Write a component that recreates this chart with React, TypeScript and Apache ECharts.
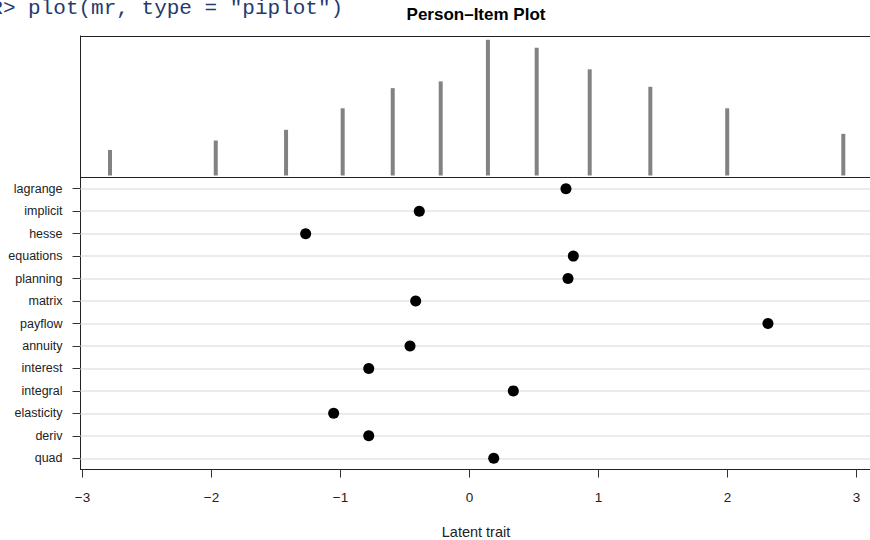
import React, { useEffect, useRef } from "react";
import * as echarts from "echarts";

// Items (top to bottom) and their estimated difficulty on the latent trait
const items = [
  "lagrange", "implicit", "hesse", "equations", "planning", "matrix", "payflow",
  "annuity", "interest", "integral", "elasticity", "deriv", "quad",
];
const itemDifficulty = [
  0.748, -0.389, -1.27, 0.805, 0.764, -0.417, 2.314,
  -0.461, -0.781, 0.34, -1.053, -0.781, 0.188,
];

// Person parameter distribution (trait value -> frequency)
const personTrait = [-2.787, -1.967, -1.422, -0.983, -0.595, -0.223, 0.143, 0.521, 0.932, 1.402, 1.998, 2.898];
const personCount = [19, 26, 34, 50, 65, 70, 101, 95, 79, 66, 50, 31];

const xTicks = [-3, -2, -1, 0, 1, 2, 3];
// the plot region runs past the right edge of the picture (cropped figure)
const X_MIN = -3.0155;
const X_MAX = 3.574;

const FONT = "'Liberation Sans', Arial, Helvetica, sans-serif";
const LINE = { color: "#222", width: 1 };

export default function App() {
  const ref = useRef<HTMLDivElement>(null);

  useEffect(() => {
    if (!ref.current) return;
    const chart = echarts.init(ref.current, undefined, { renderer: "svg" });

    const hiddenParts = {
      axisTick: { show: false }, axisLabel: { show: false }, splitLine: { show: false },
    };

    const option: any = {
      animation: false,
      backgroundColor: "#ffffff",
      textStyle: { fontFamily: FONT },
      grid: [
        { left: 80.5, width: 850, top: 36, height: 141.5, outerBoundsMode: "none", containLabel: false, show: false },
        { left: 80.5, width: 850, top: 177.5, height: 292, outerBoundsMode: "none", containLabel: false, show: false },
      ],
      xAxis: [
        {
          gridIndex: 0, type: "value", min: X_MIN, max: X_MAX, position: "top",
          axisLine: { show: true, onZero: false, lineStyle: LINE }, ...hiddenParts,
        },
        {
          gridIndex: 0, type: "value", min: X_MIN, max: X_MAX, position: "bottom",
          axisLine: { show: true, onZero: false, lineStyle: LINE }, ...hiddenParts,
        },
        {
          gridIndex: 1, type: "value", min: X_MIN, max: X_MAX, position: "bottom",
          axisLine: { show: true, onZero: false, lineStyle: LINE },
          axisTick: {
            show: true, inside: false, length: 8, customValues: xTicks,
            lineStyle: { color: "#333", width: 1 },
          },
          axisLabel: {
            show: true, customValues: xTicks, margin: 21, fontSize: 13.5, color: "#222",
            fontFamily: FONT,
            formatter: (v: number) => String(v).replace("-", "\u2212"),
          },
          splitLine: { show: false },
        },
      ],
      yAxis: [
        {
          gridIndex: 0, type: "value", min: -1.5, max: 103.8,
          axisLine: { show: true, onZero: false, lineStyle: LINE }, ...hiddenParts,
        },
        {
          gridIndex: 1, type: "category", data: items, inverse: true, boundaryGap: true,
          axisLine: { show: true, onZero: false, lineStyle: LINE },
          axisTick: { show: true, alignWithLabel: true, length: 8, lineStyle: { color: "#333", width: 1 } },
          axisLabel: { show: true, margin: 18, fontSize: 12.5, color: "#222", fontFamily: FONT },
          splitLine: { show: false },
        },
      ],
      series: [
        {
          name: "persons", type: "bar", xAxisIndex: 0, yAxisIndex: 0,
          barWidth: 4,
          itemStyle: { color: "#828282" },
          data: personTrait.map((x, i) => [x, personCount[i]]),
        },
        {
          name: "gridlines", type: "scatter", xAxisIndex: 2, yAxisIndex: 1, z: 1,
          data: [],
          markLine: {
            silent: true, symbol: ["none", "none"], label: { show: false },
            lineStyle: { color: "#e4e4e4", width: 1.5, type: "solid" },
            data: items.map((name) => ({ yAxis: name })),
          },
        },
        {
          name: "items", type: "scatter", xAxisIndex: 2, yAxisIndex: 1, z: 5,
          symbol: "circle", symbolSize: 11,
          itemStyle: { color: "#000000", opacity: 1 },
          data: items.map((name, i) => [itemDifficulty[i], name]),
        },
      ],
      graphic: [
        {
          type: "text", x: -9.7, y: 8.4,
          style: {
            text: 'R> plot(mr, type = "piplot")',
            font: "21px 'Liberation Mono', 'DejaVu Sans Mono', monospace",
            fill: "#1f3b70", textAlign: "left", textVerticalAlign: "middle",
          },
        },
        {
          type: "text", x: 476, y: 14.8,
          style: {
            text: "Person\u2013Item Plot",
            font: `bold 17px ${FONT}`,
            fill: "#000", textAlign: "center", textVerticalAlign: "middle",
          },
        },
        {
          type: "text", x: 476, y: 532,
          style: {
            text: "Latent trait",
            font: `14.5px ${FONT}`,
            fill: "#222", textAlign: "center", textVerticalAlign: "middle",
          },
        },
      ],
    };

    chart.setOption(option);
    return () => chart.dispose();
  }, []);

  return (
    <div
      ref={ref}
      style={{ position: "fixed", left: 0, top: 0, width: 870, height: 540, background: "#fff" }}
    />
  );
}
